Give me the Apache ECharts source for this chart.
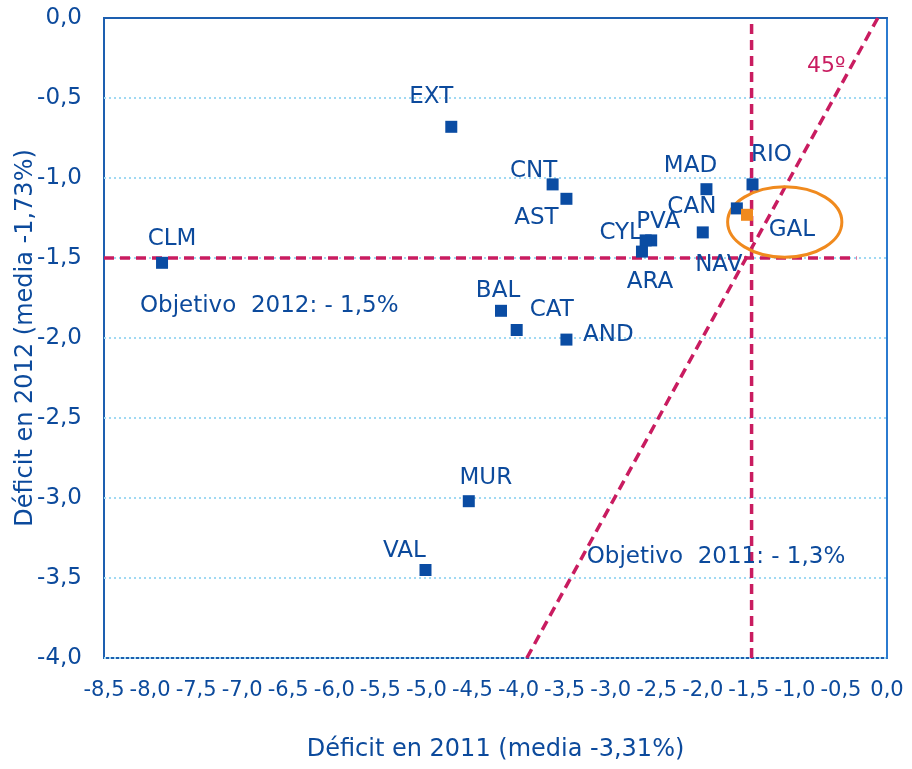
<!DOCTYPE html>
<html>
<head>
<meta charset="utf-8">
<script src="https://cdn.jsdelivr.net/npm/echarts@6/dist/echarts.min.js"></script>
<style>
  html, body { margin: 0; padding: 0; background: #fff; }
  #chart { width: 912px; height: 769px; }
</style>
</head>
<body>
<div id="chart"></div>
<script>
  // comunidades autónomas: déficit 2011 (x) y 2012 (y)
  const regiones = ['EXT', 'CNT', 'AST', 'CLM', 'BAL', 'CAT', 'AND', 'MUR', 'VAL',
    'RIO', 'MAD', 'CAN', 'GAL', 'NAV', 'PVA', 'CYL', 'ARA']
  const deficit2011 = [-4.73, -3.63, -3.48, -7.87, -4.19, -4.02, -3.48, -4.54, -5.01,
    -1.46, -1.96, -1.63, -1.52, -2.00, -2.56, -2.62, -2.66]
  const deficit2012 = [-0.68, -1.04, -1.13, -1.53, -1.83, -1.95, -2.01, -3.02, -3.45,
    -1.04, -1.07, -1.19, -1.23, -1.34, -1.39, -1.39, -1.46]

  // líneas de referencia
  const objetivo2012 = -1.5
  const objetivo2011 = -1.47
  const linea45x = [-3.91, -0.1]
  const linea45y = [-4.0, 0.0]

  // ejes
  const xMin = -8.5, xMax = 0, yMin = -4, yMax = 0, paso = 0.5

  // textos
  const textoObj2012 = 'Objetivo  2012: - 1,5%'
  const textoObj2011 = 'Objetivo  2011: - 1,3%'
  const texto45 = '45º'
  const nombreX = 'Déficit en 2011 (media -3,31%)'
  const nombreY = 'Déficit en 2012 (media -1,73%)'

  // elipse alrededor de GAL: centro y semiejes en unidades de datos
  const elipseGal = [-1.11, -1.275, 0.62, 0.22]

  const azul = '#0c4a9c'
  const marca = '#0a4ca3'
  const magenta = '#c91c60'
  const naranja = '#f08a1e'
  const fuente = 'DejaVu Sans'

  const offsets = {
    EXT: [-20, -30], CNT: [-19, -13], AST: [-30, 19], CLM: [10, -24],
    BAL: [-3, -20], CAT: [35, -20], AND: [42, -5], MUR: [17, -23],
    VAL: [-21, -19], RIO: [19, -29], MAD: [-16, -23], CAN: [-45, -1],
    GAL: [45, 15], NAV: [16, 33], PVA: [7, -18], CYL: [-25, -7], ARA: [8, 30]
  }

  const puntos = regiones.map((r, i) => ({
    name: r,
    value: [deficit2011[i], deficit2012[i]],
    itemStyle: { color: r === 'GAL' ? naranja : marca, opacity: 1 },
    label: { offset: offsets[r] }
  }))

  const fmt = (v) => v.toFixed(1).replace('.', ',')
  const dash = { color: magenta, width: 3.5, type: [10, 6] }

  const chart = echarts.init(document.getElementById('chart'))
  chart.setOption({
    animation: false,
    textStyle: { fontFamily: fuente },
    grid: {
      left: 104, right: 25, top: 18, bottom: 111,
      containLabel: false, outerBoundsMode: 'none',
      show: true, borderColor: '#1d5fb0', borderWidth: 2
    },
    xAxis: {
      type: 'value', min: xMin, max: xMax, interval: paso,
      name: nombreX, nameLocation: 'middle', nameGap: 80, nameMoveOverlap: false,
      nameTextStyle: { color: azul, fontSize: 24, fontFamily: fuente },
      axisLine: { show: true, lineStyle: { color: '#1d5fb0', width: 2 } },
      axisTick: { show: false },
      splitLine: { show: false },
      axisLabel: {
        color: azul, fontSize: 21, margin: 22, formatter: fmt,
        showMinLabel: true, showMaxLabel: true
      }
    },
    yAxis: {
      type: 'value', min: yMin, max: yMax, interval: paso,
      name: nombreY, nameLocation: 'middle', nameGap: 66, nameMoveOverlap: false,
      nameTextStyle: { color: azul, fontSize: 24, fontFamily: fuente },
      axisLine: { show: true, lineStyle: { color: '#2b7bd0', width: 2 } },
      axisTick: { show: false },
      splitLine: { show: true, lineStyle: { color: '#9fd9f3', width: 2, type: [2, 3] } },
      axisLabel: { color: azul, fontSize: 23, margin: 22, formatter: fmt }
    },
    series: [
      {
        type: 'line', silent: true, symbol: 'none', z: 3,
        data: [[xMin, objetivo2012], [-0.33, objetivo2012]],
        lineStyle: dash
      },
      {
        type: 'line', silent: true, symbol: 'none', z: 3,
        data: [[objetivo2011, yMin], [objetivo2011, yMax]],
        lineStyle: dash
      },
      {
        type: 'line', silent: true, symbol: 'none', z: 3,
        data: [[linea45x[0], linea45y[0]], [linea45x[1], linea45y[1]]],
        lineStyle: dash
      },
      {
        type: 'custom', silent: true, z: 4,
        data: [elipseGal],
        renderItem: function (params, api) {
          const c = api.coord([api.value(0), api.value(1)])
          const s = api.size([api.value(2), api.value(3)])
          return {
            type: 'ellipse',
            shape: { cx: c[0], cy: c[1], rx: s[0], ry: s[1] },
            style: { fill: 'none', stroke: naranja, lineWidth: 3 }
          }
        }
      },
      {
        type: 'scatter', symbol: 'rect', symbolSize: 12, z: 5,
        data: puntos,
        label: {
          show: true, position: 'inside', formatter: '{b}',
          color: azul, fontSize: 23, fontFamily: fuente
        }
      },
      {
        type: 'scatter', symbolSize: 0, silent: true, z: 6,
        itemStyle: { opacity: 1 },
        data: [
          { value: [-8.11, -1.8], name: textoObj2012 },
          { value: [-3.26, -3.37], name: textoObj2011 }
        ],
        label: {
          show: true, position: 'inside', align: 'left', formatter: '{b}',
          color: azul, fontSize: 23, fontFamily: fuente
        }
      },
      {
        type: 'scatter', symbolSize: 0, silent: true, z: 6,
        itemStyle: { opacity: 1 },
        data: [{ value: [-0.66, -0.3], name: texto45 }],
        label: {
          show: true, position: 'inside', formatter: '{b}',
          color: magenta, fontSize: 22, fontFamily: fuente
        }
      }
    ]
  })
</script>
</body>
</html>
